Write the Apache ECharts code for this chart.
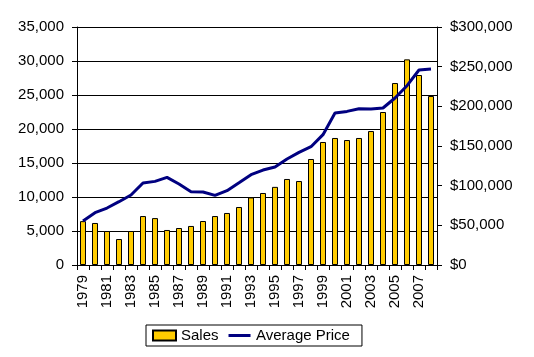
<!DOCTYPE html>
<html><head><meta charset="utf-8">
<script src="https://cdn.jsdelivr.net/npm/echarts@6/dist/echarts.min.js"></script>
<style>html,body{margin:0;padding:0;background:#fff}#c{width:534px;height:357px}</style>
</head><body><div id="c"></div>
<script>
const years = ['1979','1980','1981','1982','1983','1984','1985','1986','1987','1988','1989','1990','1991','1992','1993','1994','1995','1996','1997','1998','1999','2000','2001','2002','2003','2004','2005','2006','2007','2008'];
const sales = [6450,6180,5000,3820,5000,7200,6900,5150,5440,5740,6470,7200,7650,8530,9940,10590,11490,12650,12350,15590,18090,18680,18380,18680,19700,22500,26760,30240,27940,24850];
const avgPrice = [55500,65900,71800,79800,88200,103400,105400,110400,102100,92400,92000,87700,93700,103700,113800,119700,123500,133600,142000,149100,164300,191600,193600,197000,196600,197900,210500,226000,245800,247000];
const leftTicks = {min:0, max:35000, interval:5000};
const rightTicks = {min:0, max:300000, interval:50000};

const font = 'Liberation Sans, Arial, sans-serif';
const fs = 15;
const lineIcon = 'path://M0,0 L0.01,0 L0.01,0.01 Z M0,3.5 L22,3.5 L22,6.5 L0,6.5 Z M0,10 L0.01,10 L0.01,9.99 Z';
const chart = echarts.init(document.getElementById('c'), null, {renderer:'canvas'});
chart.setOption({
  animation:false,
  textStyle:{fontFamily:font, color:'#000'},
  grid:{left:77, right:97, top:27, bottom:92, containLabel:false},
  legend:{
    left:146, top:325, padding:[3,12,3,6], itemGap:10,
    borderColor:'#000', borderWidth:1,
    itemWidth:23, itemHeight:10,
    textStyle:{fontFamily:font, fontSize:fs, color:'#000'},
    data:[{name:'Sales', icon:'rect'}, {name:'Average Price', icon:lineIcon, itemStyle:{color:'#000080', borderWidth:0}}]
  },
  xAxis:{
    type:'category', data:years, boundaryGap:true,
    axisLine:{lineStyle:{color:'#000', width:1}},
    axisTick:{show:true, length:5, lineStyle:{color:'#000'}, interval:0},
    axisLabel:{rotate:90, interval:1, fontSize:fs, color:'#000', fontFamily:font, margin:10}
  },
  yAxis:[
    {type:'value', min:leftTicks.min, max:leftTicks.max, interval:leftTicks.interval, position:'left',
     axisLine:{show:true, lineStyle:{color:'#000'}},
     axisTick:{show:true, length:5, lineStyle:{color:'#000'}},
     axisLabel:{fontSize:fs, color:'#000', fontFamily:font, margin:13,
       formatter:v=>v.toLocaleString('en-US')},
     splitLine:{show:true, lineStyle:{color:'#000', width:1}}},
    {type:'value', min:rightTicks.min, max:rightTicks.max, interval:rightTicks.interval, position:'right',
     axisLine:{show:true, lineStyle:{color:'#000'}},
     axisTick:{show:true, length:5, lineStyle:{color:'#000'}},
     axisLabel:{fontSize:fs, color:'#000', fontFamily:font, margin:13,
       formatter:v=>'$'+v.toLocaleString('en-US')},
     splitLine:{show:false}}
  ],
  series:[
    {name:'Sales', type:'bar', data:sales, yAxisIndex:0, barWidth:6,
     itemStyle:{color:'#FFCC00', borderColor:'#000', borderWidth:1}},
    {name:'Average Price', type:'line', data:avgPrice, yAxisIndex:1,
     symbol:'none', smooth:false,
     lineStyle:{color:'#000080', width:3}, itemStyle:{color:'#000080'}}
  ]
});
</script></body></html>
